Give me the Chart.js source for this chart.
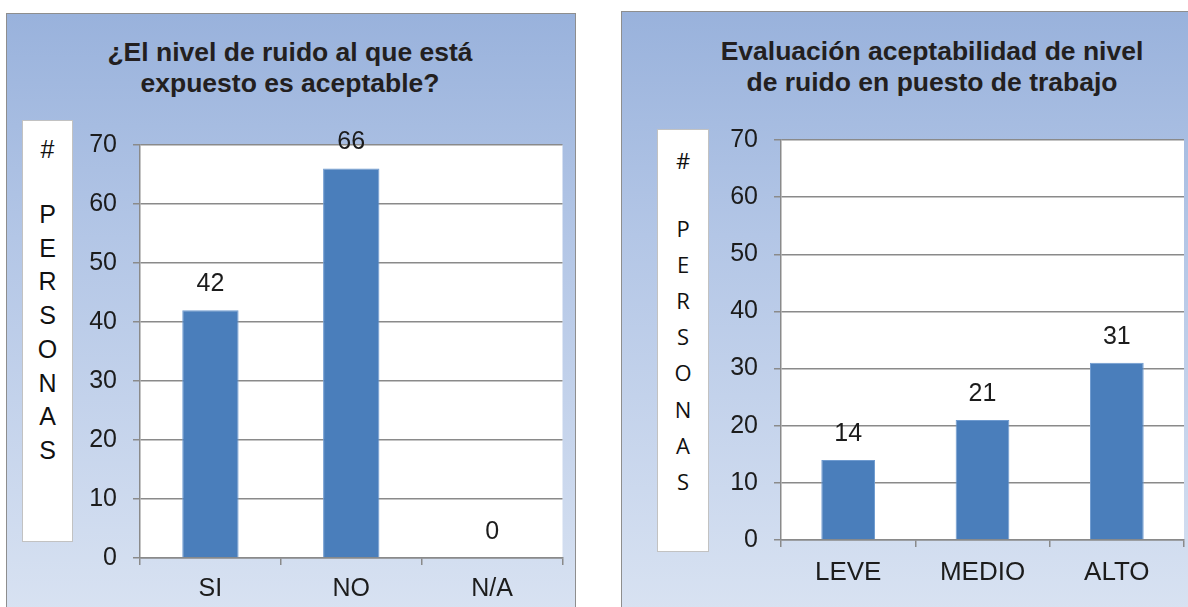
<!DOCTYPE html>
<html lang="es">
<head>
<meta charset="utf-8">
<title>Nivel de ruido</title>
<script src="https://cdn.jsdelivr.net/npm/chart.js@4.4.1/dist/chart.umd.min.js"></script>
<style>
  html, body { margin: 0; padding: 0; width: 1188px; height: 607px; overflow: hidden; background: #fff; }
  .panel {
    position: absolute; box-sizing: border-box;
    border: 1.5px solid #8e8e8e;
    background: linear-gradient(to bottom, #99b2dc 0%, #b3c6e6 35%, #dce5f3 100%);
  }
  .title {
    position: absolute; text-align: center; color: #231f20;
    font: bold 26.5px "Liberation Sans", Arial, sans-serif; line-height: 31px;
  }
  .ybox {
    position: absolute; box-sizing: border-box; background: #fff;
    border: 1.5px solid #c2c2c2; color: #111; text-align: center;
  }
  .ybox span { position: absolute; left: 0; right: 0; }
  canvas { position: absolute; }
</style>
</head>
<body>

<div class="panel" style="left:6px; top:13px; width:570px; height:640px;"></div>
<div class="panel" style="left:621px; top:11px; width:620px; height:640px;"></div>

<div class="title" style="left:-10px; top:37px; width:600px;">¿El nivel de ruido al que está<br>expuesto es aceptable?</div>
<div class="title" style="left:632px; top:36px; width:600px;">Evaluación aceptabilidad de nivel<br>de ruido en puesto de trabajo</div>

<div class="ybox" id="yboxA" style="left:22px; top:120px; width:51px; height:422px; font:25px 'Liberation Sans', Arial, sans-serif;"></div>
<div class="ybox" id="yboxB" style="left:657px; top:129px; width:52px; height:423px; font:22px 'Open Sans', sans-serif;"></div>

<canvas id="chartA" width="569" height="594" style="left:6px; top:13px;"></canvas>
<canvas id="chartB" width="566" height="596" style="left:622px; top:11px;"></canvas>

<script>
// Chart 1: is the noise level acceptable?
const categoriesA = ['SI', 'NO', 'N/A'];
const valuesA = [42, 66, 0];

// Chart 2: acceptability rating of noise at the workstation
const categoriesB = ['LEVE', 'MEDIO', 'ALTO'];
const valuesB = [14, 21, 31];

// Shared value axis
const yMin = 0;
const yMax = 70;
const yStep = 10;

const axisLabel = ['#', 'P', 'E', 'R', 'S', 'O', 'N', 'A', 'S'];

const BAR_BLUE = '#4a7ebb';
const GRID = '#8a8a8a';
const TEXT = '#1c1c1c';

// Vertical "# PERSONAS" label boxes
function fillAxisBox(id, hashY, firstY, step, lineH) {
  const box = document.getElementById(id);
  axisLabel.forEach((ch, i) => {
    const s = document.createElement('span');
    s.textContent = ch;
    const cy = i === 0 ? hashY : firstY + (i - 1) * step;
    s.style.top = (cy - lineH / 2) + 'px';
    s.style.lineHeight = lineH + 'px';
    box.appendChild(s);
  });
}
fillAxisBox('yboxA', 28, 93, 33.7, 28);
fillAxisBox('yboxB', 30, 98, 36.1, 26);

// White plotting area
const plotBackground = {
  id: 'plotBackground',
  beforeDraw(chart) {
    const { ctx, chartArea: a } = chart;
    ctx.save();
    ctx.fillStyle = '#ffffff';
    ctx.fillRect(a.left, a.top, a.right - a.left, a.bottom - a.top);
    ctx.restore();
  }
};

// Value printed above each bar
const valueLabels = {
  id: 'valueLabels',
  afterDatasetsDraw(chart) {
    const ctx = chart.ctx;
    const meta = chart.getDatasetMeta(0);
    const data = chart.data.datasets[0].data;
    ctx.save();
    ctx.font = '25px "Liberation Sans", Arial, sans-serif';
    ctx.fillStyle = TEXT;
    ctx.textAlign = 'center';
    ctx.textBaseline = 'middle';
    meta.data.forEach((bar, i) => {
      ctx.fillText(String(data[i]), bar.x, bar.y - 26);
    });
    ctx.restore();
  }
};

function buildChart(canvasId, labels, values, cfg) {
  return new Chart(document.getElementById(canvasId), {
    type: 'bar',
    data: {
      labels: labels,
      datasets: [{
        data: values,
        backgroundColor: BAR_BLUE,
        borderColor: '#6f9bd0',
        borderWidth: 1,
        categoryPercentage: 1.0,
        barPercentage: 0.4
      }]
    },
    options: {
      responsive: false,
      animation: false,
      events: [],
      layout: { padding: { top: cfg.padTop, right: cfg.padRight, left: 0, bottom: 0 } },
      plugins: {
        legend: { display: false },
        tooltip: { enabled: false },
        title: { display: false }
      },
      scales: {
        x: {
          offset: true,
          grid: { offset: true, drawOnChartArea: false, drawTicks: true, tickLength: 7, color: GRID, lineWidth: 1.5 },
          border: { display: true, color: GRID, width: 1.5 },
          ticks: {
            padding: cfg.xPad, color: TEXT, maxRotation: 0,
            font: { family: '"Liberation Sans", Arial, sans-serif', size: cfg.xFont, lineHeight: 1.2 }
          },
          afterFit(scale) { scale.height = cfg.xHeight; }
        },
        y: {
          min: yMin, max: yMax,
          grid: { color: GRID, lineWidth: 1.5, tickLength: 7, drawTicks: true },
          border: { display: true, color: GRID, width: 1.5 },
          ticks: {
            stepSize: yStep, padding: 16, color: TEXT,
            font: { family: '"Liberation Sans", Arial, sans-serif', size: 25 }
          },
          afterFit(scale) { scale.width = cfg.yWidth; }
        }
      }
    },
    plugins: [plotBackground, valueLabels]
  });
}

buildChart('chartA', categoriesA, valuesA, {
  padTop: 132, padRight: 12.5, yWidth: 134, xHeight: 49, xPad: 9, xFont: 25
});
buildChart('chartB', categoriesB, valuesB, {
  padTop: 129, padRight: 4, yWidth: 159, xHeight: 67, xPad: 10, xFont: 26
});
</script>
</body>
</html>
